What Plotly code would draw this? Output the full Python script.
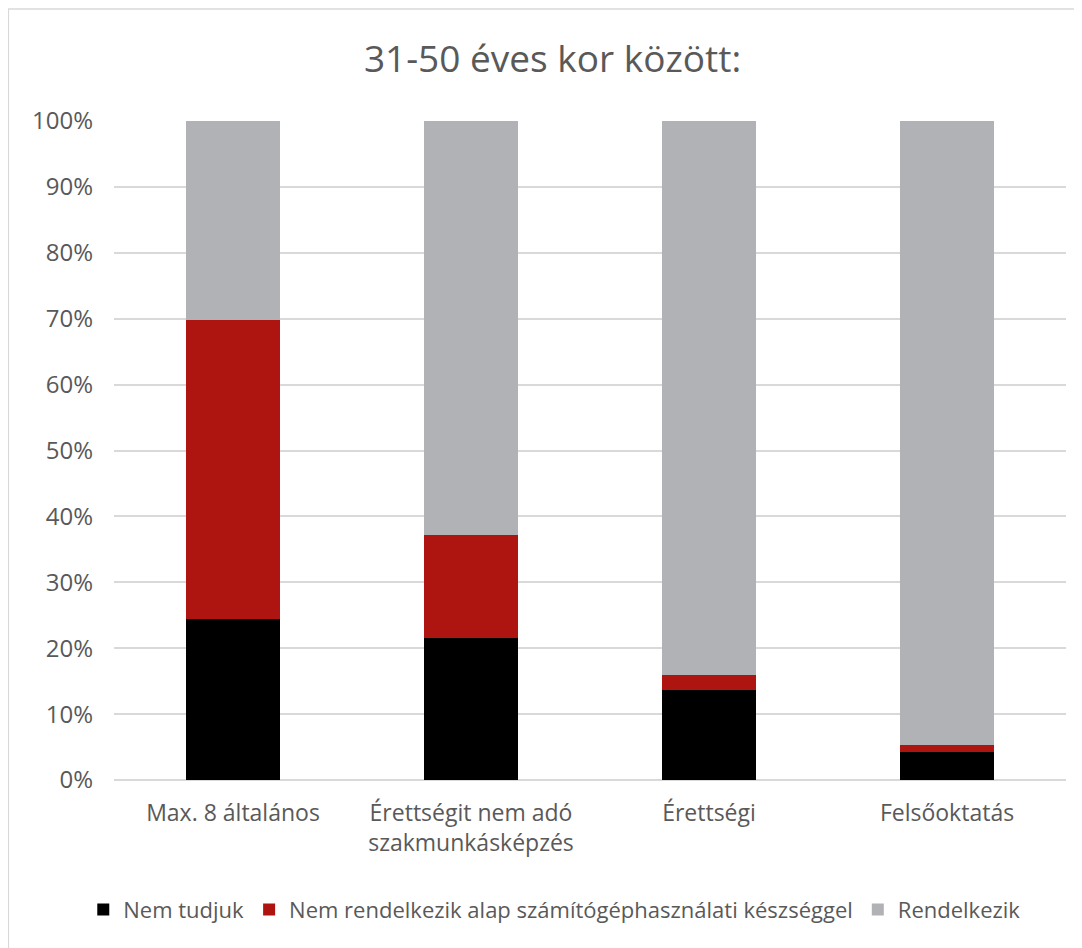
import plotly.graph_objects as go

categories = ["Max. 8 általános", "Érettségit nem adó<br>szakmunkásképzés", "Érettségi", "Felsőoktatás"]
nem_tudjuk = [24.4, 21.5, 13.6, 4.2]
nem_rendelkezik = [45.4, 15.7, 2.3, 1.1]
rendelkezik = [30.2, 62.8, 84.1, 94.7]

font_family = "Open Sans, Liberation Sans, sans-serif"

fig = go.Figure()
fig.add_trace(go.Bar(x=categories, y=nem_tudjuk, name="Nem tudjuk", marker=dict(color="#000000", line=dict(width=0))))
fig.add_trace(go.Bar(x=categories, y=nem_rendelkezik, name="Nem rendelkezik alap számítógéphasználati készséggel",
                     marker=dict(color="#ae1511", line=dict(width=0))))
fig.add_trace(go.Bar(x=categories, y=rendelkezik, name="Rendelkezik", marker=dict(color="#b1b2b5", line=dict(width=0))))

# page has an 8px body margin, so the figure is sized to fit the window
fig.update_layout(
    barmode="stack",
    bargap=0.605,
    width=1074,
    height=940,
    margin=dict(l=106, r=16, t=113, b=168, autoexpand=False),
    paper_bgcolor="white",
    plot_bgcolor="white",
    font=dict(family=font_family, color="#595959", size=23),
    title=dict(text="31-50 éves kor között:", xref="container", x=0.507, xanchor="center",
               yref="container", y=1 - 51 / 940, yanchor="middle",
               font=dict(size=37, color="#595959", family=font_family)),
    legend=dict(orientation="h", x=0.463, xanchor="center", y=-0.197, yanchor="middle",
                font=dict(size=22, color="#595959"), traceorder="normal", itemwidth=30),
    xaxis=dict(showgrid=False, showline=False, ticks="", tickfont=dict(size=23, color="#595959"),
               ticklabelstandoff=17, tickangle=0),
    yaxis=dict(range=[0, 100], dtick=10, ticksuffix="%", showgrid=True, gridcolor="#d9d9d9", gridwidth=1.5,
               zeroline=True, zerolinecolor="#d9d9d9", zerolinewidth=1.5, showline=False,
               tickfont=dict(size=24, color="#595959"), ticklabelstandoff=20),
    shapes=[dict(type="rect", xref="paper", yref="paper", x0=-0.111, x1=1.03, y0=-0.27, y1=1.17,
                 line=dict(color="#d9d9d9", width=1.5), fillcolor="rgba(0,0,0,0)", layer="below")],
)

fig.write_html("out.html")
